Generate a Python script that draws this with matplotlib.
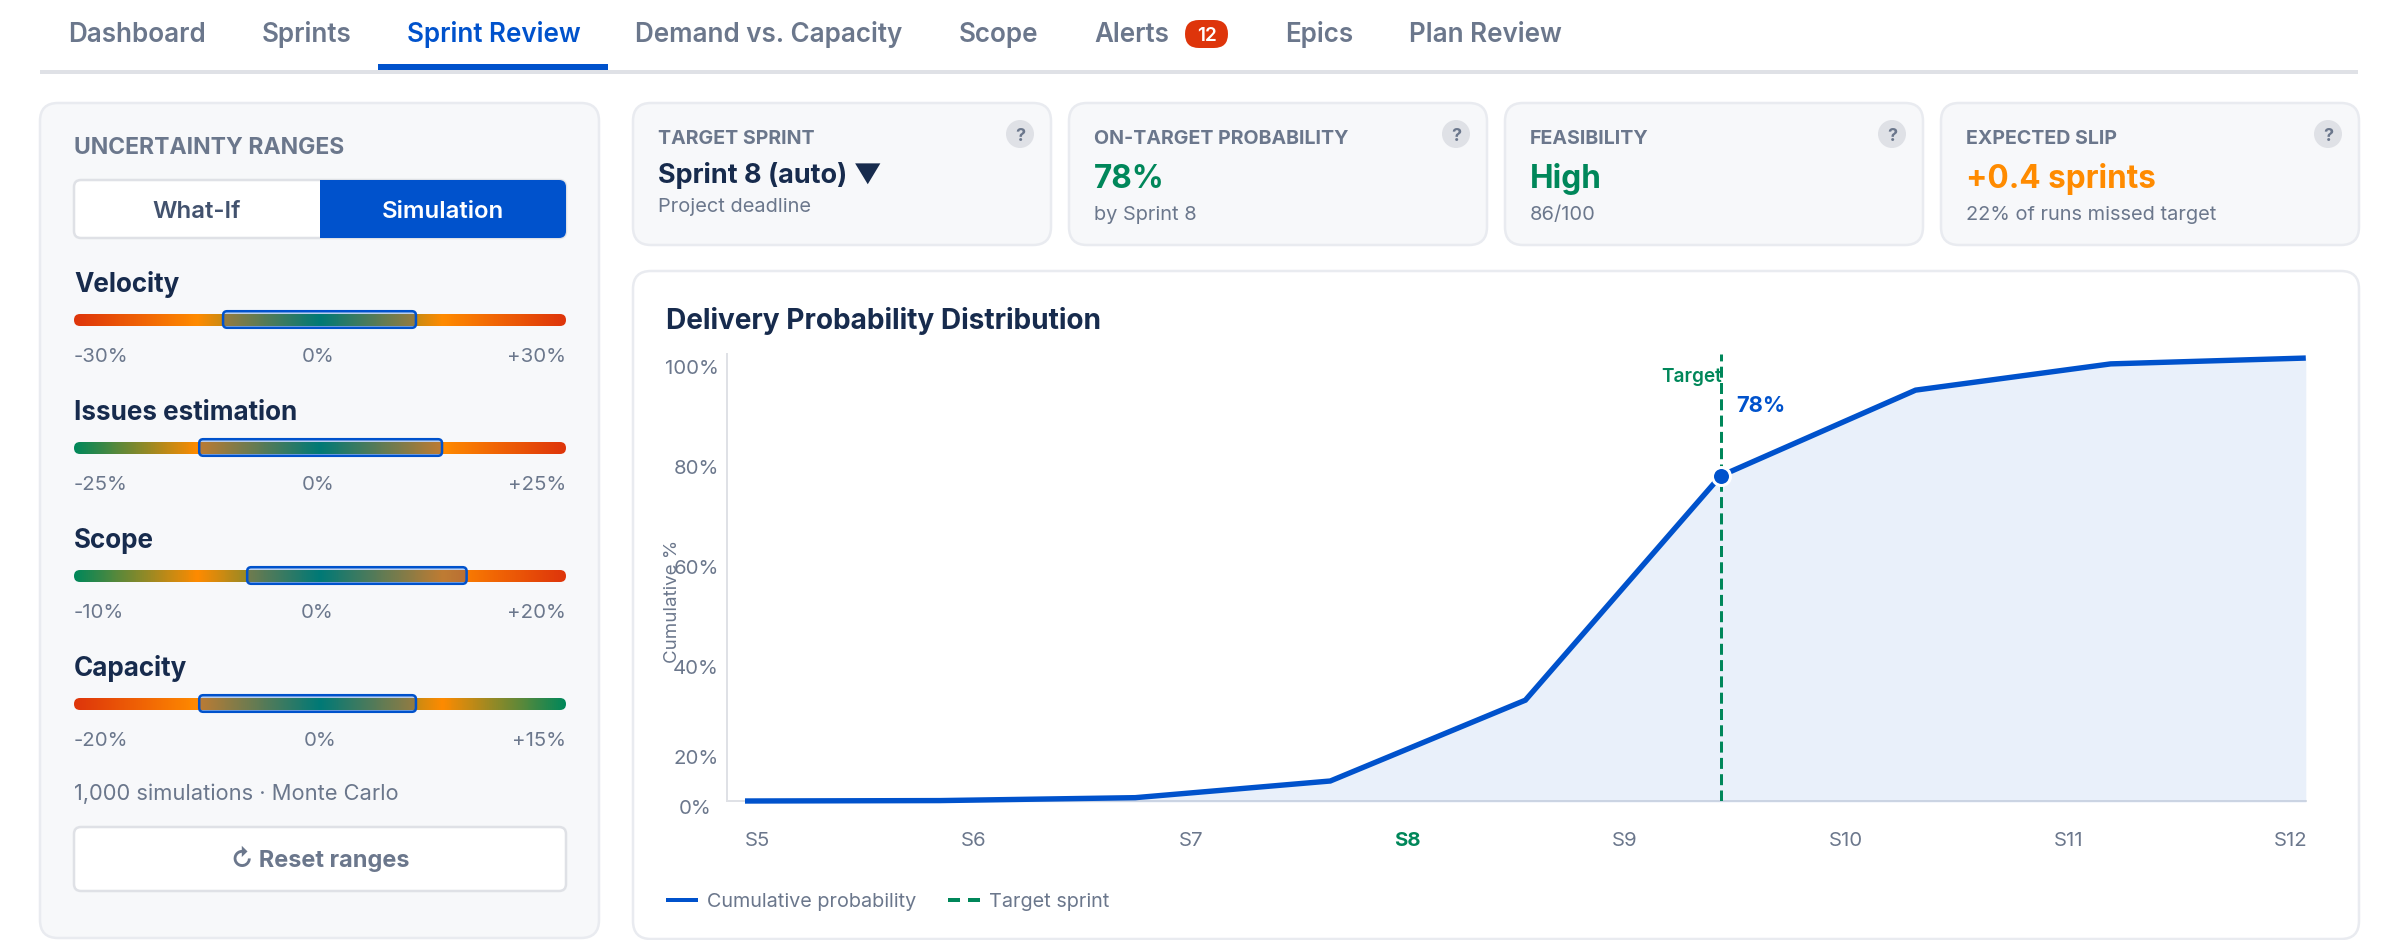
import matplotlib
matplotlib.use("Agg")
import matplotlib.pyplot as plt
import numpy as np
from matplotlib.colors import LinearSegmentedColormap
from matplotlib.lines import Line2D
from matplotlib.patches import Circle, FancyBboxPatch, Rectangle

plt.rcParams['font.family'] = ['Inter', 'DejaVu Sans']

# chart data
sprint_index = [0, 1, 2, 3, 4, 5, 6, 7, 8]
cumulative_pct = [0, 0.1, 0.8, 4.8, 24.2, 78, 98.6, 104.9, 106.3]
target_index = 5
target_pct = 78
sprint_labels = ['S5', 'S6', 'S7', 'S8', 'S9', 'S10', 'S11', 'S12']
pct_labels = ['100%', '80%', '60%', '40%', '20%']
zero_label = '0%'

# nav tabs
nav_labels = ['Dashboard', 'Sprints', 'Sprint Review', 'Demand vs. Capacity', 'Scope', 'Alerts', 'Epics', 'Plan Review']
alert_count = '12'

# sliders
slider_names = ['Velocity', 'Issues estimation', 'Scope', 'Capacity']
slider_low = ['-30%', '-25%', '-10%', '-20%']
slider_mid = ['0%', '0%', '0%', '0%']
slider_high = ['+30%', '+25%', '+20%', '+15%']
range_start = [0.303, 0.2545, 0.352, 0.2545]
range_end = [0.695, 0.748, 0.798, 0.695]

# KPI cards
card_titles = ['TARGET SPRINT', 'ON-TARGET PROBABILITY', 'FEASIBILITY', 'EXPECTED SLIP']
card_values = ['Sprint 8 (auto) ▼', '78%', 'High', '+0.4 sprints']
card_subs = ['Project deadline', 'by Sprint 8', '86/100', '22% of runs missed target']

NAVY = '#172b4d'
GRAY = '#6b778c'
BLUE = '#0052cc'
GREEN = '#00875a'
ORANGE = '#ff8b00'
RED = '#de350b'
PANEL = '#f7f8fa'
BORDER = '#e9ebf0'


def pt(pixels):
    return pixels * 0.72


fig = plt.figure(figsize=(24, 9.4), dpi=100, facecolor='white')
ui = fig.add_axes([0, 0, 1, 1])
ui.set_axis_off()


def label(x, y, s, size, color=GRAY, weight='normal', ha='left', **kw):
    return ui.text(x, y + 0.364 * size, s, fontsize=pt(size), color=color, fontweight=weight,
                   ha=ha, va='baseline', **kw)


def box(x0, y0, x1, y1, radius, fc, ec=BORDER, lw=2.5, **kw):
    patch = FancyBboxPatch((x0, y0), x1 - x0, y1 - y0, boxstyle=f'round,pad=0,rounding_size={radius}',
                           fc=fc, ec=ec, lw=pt(lw), **kw)
    ui.add_patch(patch)
    return patch


# nav
nav_x = [68, 262, 407, 635, 959, 1094, 1285, 1409]
for x, name in zip(nav_x, nav_labels):
    active = name == 'Sprint Review'
    label(x, 33, name, 26, color=BLUE if active else GRAY, weight=600)
ui.add_patch(Rectangle((40, 70), 2318, 4, fc='#dfe1e6', ec='none'))
ui.add_patch(Rectangle((378, 64), 230, 6, fc=BLUE, ec='none'))
box(1185, 20, 1228, 48, 14, RED, ec='none', lw=0)
label(1206.5, 34, alert_count, 19, color='white', weight=600, ha='center')

# left panel
box(40, 103, 599, 938, 18, PANEL)
label(74, 146, 'UNCERTAINTY RANGES', 23, weight=700)
box(74, 180, 566, 238, 7, 'white', ec='#dfe1e6')
box(320, 180, 566, 238, 7, BLUE, ec='none', lw=0)
ui.add_patch(Rectangle((320, 180), 12, 58, fc=BLUE, ec='none'))
label(197, 209.5, 'What-If', 24, color='#42526e', weight=600, ha='center')
label(443, 209.5, 'Simulation', 24, color='white', weight=600, ha='center')

track_x0, track_x1 = 74, 566
left_stop = [RED, GREEN, GREEN, RED]
right_stop = [RED, RED, RED, GREEN]
mid_x = [318, 318, 317, 320]
title_y = [283, 411, 539, 667]
for i, name in enumerate(slider_names):
    y = title_y[i]
    label(track_x0, y, name, 26, color=NAVY, weight=700)
    # gradient track, clipped to a pill
    cmap = LinearSegmentedColormap.from_list('track', [(0, left_stop[i]), (0.25, ORANGE), (0.5, GREEN),
                                                       (0.75, ORANGE), (1, right_stop[i])])
    top = y + 31
    im = ui.imshow(np.linspace(0, 1, 500).reshape(1, -1), cmap=cmap, aspect='auto',
                   extent=(track_x0, track_x1, top + 12, top), zorder=2)
    pill = FancyBboxPatch((track_x0, top), track_x1 - track_x0, 12, boxstyle='round,pad=0,rounding_size=6',
                          fc='none', ec='none', transform=ui.transData)
    ui.add_patch(pill)
    im.set_clip_path(pill)
    # selected range
    sx0 = track_x0 + range_start[i] * (track_x1 - track_x0)
    sx1 = track_x0 + range_end[i] * (track_x1 - track_x0)
    box(sx0, top - 2.8, sx1, top + 13.8, 4, (0, 0.32, 0.8, 0.25), ec=BLUE, lw=2.5, zorder=3)
    label(track_x0, y + 72, slider_low[i], 20.4)
    label(mid_x[i], y + 72, slider_mid[i], 20.4, ha='center')
    label(track_x1, y + 72, slider_high[i], 20.4, ha='right')

label(74, 792, '1,000 simulations · Monte Carlo', 21.9)
box(74, 827, 566, 891, 7, 'white', ec='#dfe1e6')
label(320, 858, '↻ Reset ranges', 23.5, weight=700, ha='center')

# KPI cards
card_x = [633, 1069, 1505, 1941]
value_color = [NAVY, GREEN, GREEN, ORANGE]
for i, x in enumerate(card_x):
    box(x, 103, x + 418, 245, 18, PANEL)
    label(x + 25, 137, card_titles[i], 19.6, weight=700)
    if i == 0:
        label(x + 25, 173, card_values[i], 27, color=value_color[i], weight=700)
        label(x + 25, 205, card_subs[i], 20)
    else:
        label(x + 25, 177, card_values[i], 31.5, color=value_color[i], weight=700)
        label(x + 25, 213, card_subs[i], 20)
    ui.add_patch(Circle((x + 387, 134), 14, fc='#dfe1e6', ec='none'))
    label(x + 387, 134, '?', 18, weight=700, ha='center')

# chart card
box(633, 271, 2359, 939, 18, 'white')
label(666, 319, 'Delivery Probability Distribution', 28, color=NAVY, weight=700)

ui.set_xlim(0, 2400)
ui.set_ylim(940, 0)

# the plot itself, axes placed on the screenshot's pixel box
ax_x0, ax_x1, ax_y0, ax_y1 = 727, 2306, 354, 801
ax = fig.add_axes([ax_x0 / 2400, 1 - ax_y1 / 940, (ax_x1 - ax_x0) / 2400, (ax_y1 - ax_y0) / 940])
ax.patch.set_alpha(0)
step = 195.1
per_pct = 4.167
ax.set_xlim((ax_x0 - 745) / step, (ax_x1 - 745) / step)
ax.set_ylim(0, (ax_y1 - ax_y0) / per_pct)

ax.fill_between(sprint_index, cumulative_pct, -1 / per_pct, color=BLUE, alpha=0.085, lw=0, zorder=3, clip_on=False)
ax.plot(sprint_index, cumulative_pct, color=BLUE, lw=pt(5.4), solid_joinstyle='miter', solid_capstyle='butt',
        zorder=4, clip_on=False)
ax.axvline(target_index, color=GREEN, lw=pt(3), dashes=(11 / 3, 5.3 / 3), zorder=5)
ax.plot([target_index], [target_pct], 'o', color=BLUE, ms=pt(18), mec='white', mew=pt(3), zorder=6)

ax.annotate('Target', xy=(target_index, 101.8), xytext=(1, 0), textcoords='offset points', ha='right', va='center',
            color=GREEN, fontsize=pt(19), fontweight=600, zorder=7)
ax.annotate(f'{target_pct}%', xy=(target_index, 94.8), xytext=(pt(16), 0), textcoords='offset points', ha='left',
            va='center', color=BLUE, fontsize=pt(22), fontweight=700, zorder=7)

# axis labels in the source sit off the data scale, so they get their own pixel positions
ytick_px = [367, 467, 567, 667, 757]
xtick_px = [757, 974, 1191, 1407, 1625, 1846, 2069, 2291]
ax.set_yticks([(ax_y1 - p) / per_pct for p in ytick_px], pct_labels)
ax.set_xticks([(p - 745) / step for p in xtick_px], sprint_labels)
ax.set_ylim(0, (ax_y1 - ax_y0) / per_pct)
ax.tick_params(axis='both', length=0, labelsize=pt(20.4), labelcolor=GRAY)
ax.tick_params(axis='y', pad=pt(8))
ax.tick_params(axis='x', pad=pt(31.5))
s8 = ax.get_xticklabels()[3]
s8.set_color(GREEN)
s8.set_fontweight(700)
# 0% hangs below the baseline and is drawn a bit further left
ax.annotate(zero_label, xy=(0, 0), xycoords=ax.get_yaxis_transform(), xytext=(pt(-15), pt(-8)),
            textcoords='offset points', ha='right', va='center', fontsize=pt(20.4), color=GRAY)

for side in ['top', 'right']:
    ax.spines[side].set_visible(False)
for side in ['left', 'bottom']:
    ax.spines[side].set_color('#dfe1e6')
    ax.spines[side].set_linewidth(pt(2))

ax.set_ylabel('Cumulative %', fontsize=pt(18.7), color=GRAY)
ax.yaxis.set_label_coords((681 - ax_x0) / (ax_x1 - ax_x0), (ax_y1 - 601) / (ax_y1 - ax_y0))

handles = [Line2D([], [], color=BLUE, lw=pt(4), solid_capstyle='butt'),
           Line2D([], [], color=GREEN, lw=pt(4), dashes=(12 / 4, 8 / 4), dash_capstyle='butt')]
ax.legend(handles, ['Cumulative probability', 'Target sprint'], ncol=2, frameon=False, loc='lower left',
          bbox_to_anchor=((666 - ax_x0) / (ax_x1 - ax_x0), (ax_y1 - 911) / (ax_y1 - ax_y0)),
          borderaxespad=0, borderpad=0, fontsize=pt(19.8), labelcolor=GRAY, handlelength=1.62,
          handletextpad=0.45, columnspacing=1.6)

fig.savefig('out.png', dpi=100)
